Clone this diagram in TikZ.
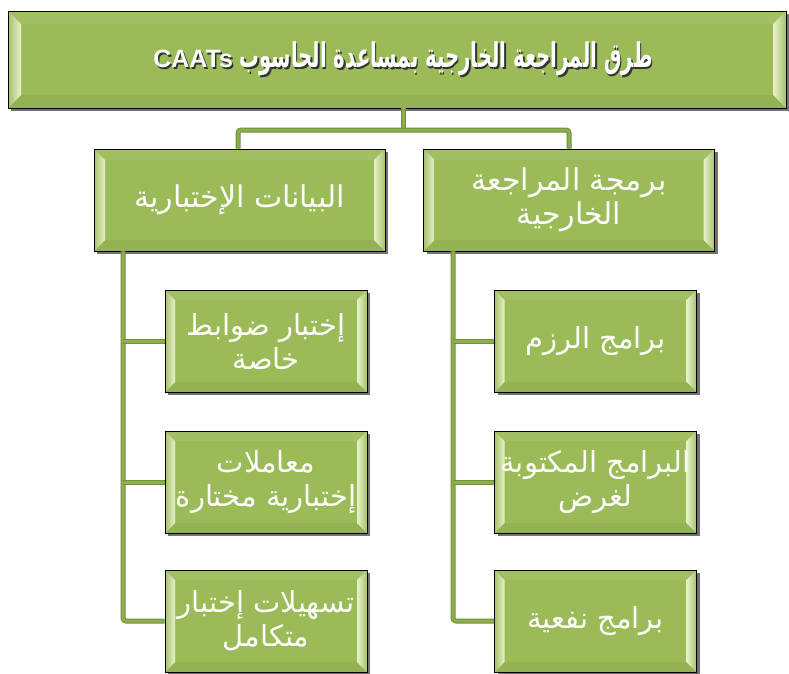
\documentclass[tikz,border=0pt]{standalone}
\usepackage{fontspec}
\setmainfont{Liberation Sans}
\newfontfamily\arabicfont[Script=Arabic]{DejaVu Sans}
\newfontfamily\arabictitle[Script=Arabic, FakeStretch=0.58]{DejaVu Sans}
\newfontfamily\latinbold{Liberation Sans}
\TeXXeTstate=1
\usetikzlibrary{shadows,calc}

\definecolor{boxgreen}{HTML}{9BBB59}
\definecolor{bevellight}{HTML}{E9F1CC}
\definecolor{beveltop}{HTML}{A2BF63}
\definecolor{bevelbottom}{HTML}{93B253}
\definecolor{linkgreen}{HTML}{8DAD4F}
\definecolor{linkedge}{HTML}{728E3C}

% right-to-left Arabic run
\newcommand\artext[1]{{\arabicfont\beginR #1\endR}}
% bold title line with a dark offset copy behind it
\newcommand\titleline[1]{\leavevmode\rlap{\kern1.5pt\raisebox{-2pt}{\color{black!80}#1}}#1}

\tikzset{
  bevelbox/.style={
    draw=black, line width=0.9pt, fill=boxgreen,
    drop shadow={shadow xshift=3pt, shadow yshift=-3pt, fill=black, opacity=0.55},
    text=white, align=center, inner sep=0pt,
    path picture={
      % top strip
      \fill[beveltop] let \p1=(path picture bounding box.south west),
                          \p2=(path picture bounding box.north east) in
        (\x1,\y2) -- (\x2,\y2) -- (\x2-#1,\y2-#1) -- (\x1+#1,\y2-#1) -- cycle;
      % bottom strip
      \fill[bevelbottom] let \p1=(path picture bounding box.south west),
                             \p2=(path picture bounding box.north east) in
        (\x1,\y1) -- (\x2,\y1) -- (\x2-#1,\y1+#1) -- (\x1+#1,\y1+#1) -- cycle;
      % left strip, bright toward the face
      \shade[left color=boxgreen!90!white, right color=bevellight]
        let \p1=(path picture bounding box.south west),
            \p2=(path picture bounding box.north east) in
        (\x1,\y1) -- (\x1,\y2) -- (\x1+#1,\y2-#1) -- (\x1+#1,\y1+#1) -- cycle;
      % right strip, bright toward the face
      \shade[right color=boxgreen!90!white, left color=bevellight]
        let \p1=(path picture bounding box.south west),
            \p2=(path picture bounding box.north east) in
        (\x2,\y1) -- (\x2,\y2) -- (\x2-#1,\y2-#1) -- (\x2-#1,\y1+#1) -- cycle;
    }
  },
  topbox/.style={bevelbox=13pt, minimum width=778pt, minimum height=97pt,
    font=\bfseries\fontsize{34}{36}\selectfont},
  midbox/.style={bevelbox=11pt, minimum width=291pt, minimum height=102pt,
    font=\fontsize{30}{34}\selectfont},
  leafbox/.style={bevelbox=10pt, minimum width=202pt, minimum height=102pt,
    font=\fontsize{29}{34}\selectfont},
  link/.style={draw=linkedge, line width=5pt, rounded corners=3pt,
    postaction={draw=linkgreen, line width=3pt}},
}

\begin{document}
\begin{tikzpicture}[x=1pt, y=-1pt]
  \useasboundingbox (0,0) rectangle (789,673);

  \coordinate (hub) at (403,130);
  \coordinate (ltrunk) at (123,251);
  \coordinate (rtrunk) at (453,251);

  % main box
  \node[topbox] (top) at (397,59.5)
    {\hspace*{12pt}\titleline{{\arabictitle\beginR طرق المراجعة الخارجية بمساعدة الحاسوب \beginL{\latinbold\bfseries\fontsize{25}{30}\selectfont CAATs}\endL\endR}}};

  % second level
  \node[midbox] (tests) at (239.5,200) {\artext{البيانات الإختبارية}};
  \node[midbox] (progs) at (569,200) {\artext{برمجة المراجعة}\\\artext{الخارجية}};

  % leaves under the test-data branch
  \node[leafbox] (l1) at (266,341) {\artext{إختبار ضوابط}\\\artext{خاصة}};
  \node[leafbox] (l2) at (266,482) {\artext{معاملات}\\\artext{إختبارية مختارة}};
  \node[leafbox] (l3) at (266,621) {\artext{تسهيلات إختبار}\\\artext{متكامل}};

  % leaves under the audit-software branch
  \node[leafbox] (r1) at (595.5,341) {\artext{برامج الرزم}};
  \node[leafbox] (r2) at (595.5,482) {\artext{البرامج المكتوبة}\\\artext{لغرض}};
  \node[leafbox] (r3) at (595.5,621) {\artext{برامج نفعية}};

  % links, meeting the boxes at their edges
  \path[link] (top.south -| hub) -- (hub);
  \path[link] (tests.north -| 238,0) |- (hub) -| (progs.north);
  \path[link] (tests.south -| ltrunk) -- (ltrunk |- l3.west) -- (l3.west);
  \path[link] (ltrunk |- l1.west) -- (l1.west);
  \path[link] (ltrunk |- l2.west) -- (l2.west);
  \path[link] (progs.south -| rtrunk) -- (rtrunk |- r3.west) -- (r3.west);
  \path[link] (rtrunk |- r1.west) -- (r1.west);
  \path[link] (rtrunk |- r2.west) -- (r2.west);
\end{tikzpicture}
\end{document}
